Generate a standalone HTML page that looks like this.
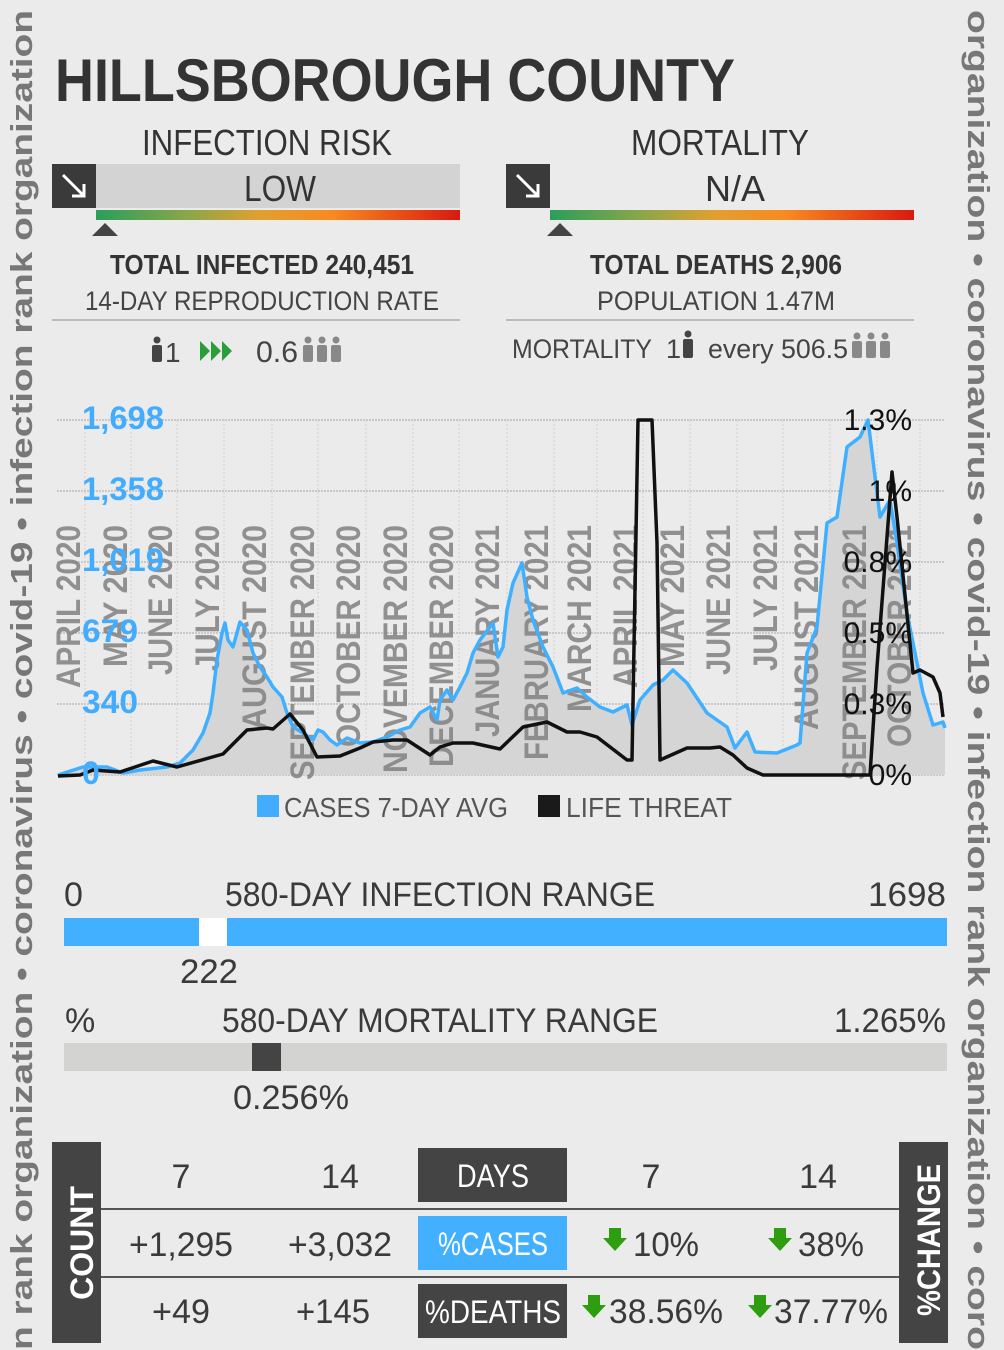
<!DOCTYPE html>
<html><head><meta charset="utf-8"><style>
html,body{margin:0;padding:0;background:#ebebeb;}
svg{display:block;font-family:"Liberation Sans",sans-serif;}
</style></head><body>
<svg width="1004" height="1350" viewBox="0 0 1004 1350" xmlns="http://www.w3.org/2000/svg">
<defs>
<linearGradient id="g" x1="0" x2="1"><stop offset="0" stop-color="#2a9e5a"/><stop offset="0.25" stop-color="#8aa64a"/><stop offset="0.45" stop-color="#e0a030"/><stop offset="0.65" stop-color="#f88a20"/><stop offset="1" stop-color="#d81a10"/></linearGradient>
</defs>
<rect width="1004" height="1350" fill="#ebebeb"/>
<text transform="translate(32,1350) rotate(-90)" font-size="31" font-weight="bold" fill="#777" textLength="1340" lengthAdjust="spacingAndGlyphs">n rank organization  •  coronavirus  •  covid-19  •  infection rank organization</text>
<text transform="translate(968,10) rotate(90)" font-size="31" font-weight="bold" fill="#777" textLength="1340" lengthAdjust="spacingAndGlyphs">organization  •  coronavirus  •  covid-19  •  infection rank organization  •  coro</text>

<text x="55" y="101" font-size="60" font-weight="bold" fill="#333" textLength="680" lengthAdjust="spacingAndGlyphs">HILLSBOROUGH COUNTY</text>

<text x="267" y="155" font-size="36" fill="#333" text-anchor="middle" textLength="250" lengthAdjust="spacingAndGlyphs">INFECTION RISK</text>
<rect x="52" y="164" width="44" height="44" fill="#3a3a3a"/>
<path d="M63 175 L84 196 M84 184 L84 196 L72 196" stroke="#fff" stroke-width="3" fill="none"/>
<rect x="96" y="164" width="364" height="44" fill="#d3d3d3"/>
<text x="280" y="201" font-size="36" fill="#333" text-anchor="middle" textLength="72" lengthAdjust="spacingAndGlyphs">LOW</text>
<rect x="96" y="210" width="364" height="10" fill="url(#g)"/>
<path d="M92 236 L105 223 L118 236Z" fill="#444"/>
<text x="262" y="274" font-size="28" font-weight="bold" fill="#333" text-anchor="middle" textLength="304" lengthAdjust="spacingAndGlyphs">TOTAL INFECTED 240,451</text>
<text x="262" y="310" font-size="27" fill="#444" text-anchor="middle" textLength="354" lengthAdjust="spacingAndGlyphs">14-DAY REPRODUCTION RATE</text>
<rect x="52" y="319" width="408" height="2" fill="#bbb"/>
<g fill="#444"><circle cx="157" cy="340" r="3.5"/><rect x="152" y="345" width="10" height="17" rx="2"/></g>
<text x="165" y="362" font-size="28" fill="#444">1</text>
<path d="M200 341 L210 351 L200 361Z M211 341 L221 351 L211 361Z M222 341 L232 351 L222 361Z" fill="#2a9e3a"/>
<text x="256" y="362" font-size="30" fill="#444" textLength="42" lengthAdjust="spacingAndGlyphs">0.6</text>
<g fill="#888"><circle cx="308" cy="340" r="3.5"/><rect x="303" y="345" width="10" height="17" rx="2"/><circle cx="322" cy="340" r="3.5"/><rect x="317" y="345" width="10" height="17" rx="2"/><circle cx="336" cy="340" r="3.5"/><rect x="331" y="345" width="10" height="17" rx="2"/></g>

<text x="720" y="155" font-size="36" fill="#333" text-anchor="middle" textLength="178" lengthAdjust="spacingAndGlyphs">MORTALITY</text>
<rect x="506" y="164" width="44" height="44" fill="#3a3a3a"/>
<path d="M517 175 L538 196 M538 184 L538 196 L526 196" stroke="#fff" stroke-width="3" fill="none"/>
<text x="735" y="201" font-size="36" fill="#333" text-anchor="middle" textLength="60" lengthAdjust="spacingAndGlyphs">N/A</text>
<rect x="550" y="210" width="364" height="10" fill="url(#g)"/>
<path d="M547 236 L560 223 L573 236Z" fill="#444"/>
<text x="716" y="274" font-size="28" font-weight="bold" fill="#333" text-anchor="middle" textLength="252" lengthAdjust="spacingAndGlyphs">TOTAL DEATHS 2,906</text>
<text x="716" y="310" font-size="27" fill="#444" text-anchor="middle" textLength="238" lengthAdjust="spacingAndGlyphs">POPULATION 1.47M</text>
<rect x="506" y="319" width="408" height="2" fill="#bbb"/>
<text x="512" y="358" font-size="27" fill="#444" textLength="140" lengthAdjust="spacingAndGlyphs">MORTALITY</text>
<text x="666" y="358" font-size="27" fill="#444">1</text>
<g fill="#444"><circle cx="688" cy="334" r="3.5"/><rect x="683" y="339" width="10" height="19" rx="2"/></g>
<text x="708" y="358" font-size="27" fill="#444" textLength="140" lengthAdjust="spacingAndGlyphs">every  506.5</text>
<g fill="#888"><circle cx="857" cy="336" r="3.5"/><rect x="852" y="341" width="10" height="17" rx="2"/><circle cx="871" cy="336" r="3.5"/><rect x="866" y="341" width="10" height="17" rx="2"/><circle cx="885" cy="336" r="3.5"/><rect x="880" y="341" width="10" height="17" rx="2"/></g>

<g stroke="#bcbcbc" stroke-width="1.5" stroke-dasharray="2,1">
<line x1="57" y1="420" x2="944" y2="420"/><line x1="57" y1="491" x2="944" y2="491"/><line x1="57" y1="562" x2="944" y2="562"/><line x1="57" y1="633" x2="944" y2="633"/><line x1="57" y1="704" x2="944" y2="704"/><line x1="57" y1="775" x2="944" y2="775"/>
</g>
<g stroke="#d0d0d0" stroke-width="1" stroke-dasharray="2,2">
<line x1="85" y1="420" x2="85" y2="775"/><line x1="131" y1="420" x2="131" y2="775"/><line x1="177" y1="420" x2="177" y2="775"/><line x1="224" y1="420" x2="224" y2="775"/><line x1="272" y1="420" x2="272" y2="775"/><line x1="318" y1="420" x2="318" y2="775"/><line x1="366" y1="420" x2="366" y2="775"/><line x1="413" y1="420" x2="413" y2="775"/><line x1="459" y1="420" x2="459" y2="775"/><line x1="507" y1="420" x2="507" y2="775"/><line x1="554" y1="420" x2="554" y2="775"/><line x1="597" y1="420" x2="597" y2="775"/><line x1="643" y1="420" x2="643" y2="775"/><line x1="690" y1="420" x2="690" y2="775"/><line x1="737" y1="420" x2="737" y2="775"/><line x1="783" y1="420" x2="783" y2="775"/><line x1="830" y1="420" x2="830" y2="775"/><line x1="877" y1="420" x2="877" y2="775"/><line x1="920" y1="420" x2="920" y2="775"/>
</g>
<path fill="#d5d5d5" d="M58,775 L83,767 L107,767 L123,773 L140,770 L167,767 L180,763 L193,750 L203,733 L210,713 L213,693 L217,660 L222,633 L225,623 L228,640 L233,647 L240,622 L247,630 L253,653 L260,667 L267,677 L273,687 L282,697 L287,713 L293,727 L303,733 L313,740 L318,730 L323,732 L330,740 L337,745 L347,738 L360,743 L373,742 L387,737 L400,730 L410,727 L420,713 L430,707 L437,720 L440,700 L447,690 L453,700 L460,687 L467,673 L473,653 L480,640 L493,623 L498,657 L503,647 L507,610 L513,583 L522,563 L527,597 L533,620 L543,647 L553,667 L563,693 L577,688 L587,697 L600,707 L613,712 L627,705 L632,725 L640,700 L653,685 L663,680 L673,670 L687,683 L707,713 L727,727 L735,748 L747,732 L755,752 L777,753 L797,745 L800,743 L807,653 L817,627 L827,523 L837,517 L847,447 L860,437 L868,420 L880,517 L890,500 L897,543 L907,613 L923,693 L933,725 L943,722 L945,728 L945,775Z"/>
<g font-size="34" font-weight="bold" fill="#808080" fill-opacity="0.85" text-anchor="end" lengthAdjust="spacingAndGlyphs">
<text transform="translate(80,525) rotate(-90)" textLength="163" lengthAdjust="spacingAndGlyphs">APRIL 2020</text>
<text transform="translate(127,525) rotate(-90)" textLength="142" lengthAdjust="spacingAndGlyphs">MAY 2020</text>
<text transform="translate(172,525) rotate(-90)" textLength="150" lengthAdjust="spacingAndGlyphs">JUNE 2020</text>
<text transform="translate(219,525) rotate(-90)" textLength="146" lengthAdjust="spacingAndGlyphs">JULY 2020</text>
<text transform="translate(266,525) rotate(-90)" textLength="205" lengthAdjust="spacingAndGlyphs">AUGUST 2020</text>
<text transform="translate(314,525) rotate(-90)" textLength="255" lengthAdjust="spacingAndGlyphs">SEPTEMBER 2020</text>
<text transform="translate(360,525) rotate(-90)" textLength="222" lengthAdjust="spacingAndGlyphs">OCTOBER 2020</text>
<text transform="translate(407,525) rotate(-90)" textLength="248" lengthAdjust="spacingAndGlyphs">NOVEMBER 2020</text>
<text transform="translate(453,525) rotate(-90)" textLength="242" lengthAdjust="spacingAndGlyphs">DECEMBER 2020</text>
<text transform="translate(499,525) rotate(-90)" textLength="212" lengthAdjust="spacingAndGlyphs">JANUARY 2021</text>
<text transform="translate(548,525) rotate(-90)" textLength="235" lengthAdjust="spacingAndGlyphs">FEBRUARY 2021</text>
<text transform="translate(591,525) rotate(-90)" textLength="187" lengthAdjust="spacingAndGlyphs">MARCH 2021</text>
<text transform="translate(637,525) rotate(-90)" textLength="163" lengthAdjust="spacingAndGlyphs">APRIL 2021</text>
<text transform="translate(684,525) rotate(-90)" textLength="142" lengthAdjust="spacingAndGlyphs">MAY 2021</text>
<text transform="translate(730,525) rotate(-90)" textLength="150" lengthAdjust="spacingAndGlyphs">JUNE 2021</text>
<text transform="translate(777,525) rotate(-90)" textLength="146" lengthAdjust="spacingAndGlyphs">JULY 2021</text>
<text transform="translate(818,525) rotate(-90)" textLength="205" lengthAdjust="spacingAndGlyphs">AUGUST 2021</text>
<text transform="translate(866,525) rotate(-90)" textLength="255" lengthAdjust="spacingAndGlyphs">SEPTEMBER 2021</text>
<text transform="translate(911,525) rotate(-90)" textLength="222" lengthAdjust="spacingAndGlyphs">OCTOBER 2021</text>
</g>
<path fill="none" stroke="#3fb0ff" stroke-width="3.5" stroke-linejoin="round" d="M58,775 L83,767 L107,767 L123,773 L140,770 L167,767 L180,763 L193,750 L203,733 L210,713 L213,693 L217,660 L222,633 L225,623 L228,640 L233,647 L240,622 L247,630 L253,653 L260,667 L267,677 L273,687 L282,697 L287,713 L293,727 L303,733 L313,740 L318,730 L323,732 L330,740 L337,745 L347,738 L360,743 L373,742 L387,737 L400,730 L410,727 L420,713 L430,707 L437,720 L440,700 L447,690 L453,700 L460,687 L467,673 L473,653 L480,640 L493,623 L498,657 L503,647 L507,610 L513,583 L522,563 L527,597 L533,620 L543,647 L553,667 L563,693 L577,688 L587,697 L600,707 L613,712 L627,705 L632,725 L640,700 L653,685 L663,680 L673,670 L687,683 L707,713 L727,727 L735,748 L747,732 L755,752 L777,753 L797,745 L800,743 L807,653 L817,627 L827,523 L837,517 L847,447 L860,437 L868,420 L880,517 L890,500 L897,543 L907,613 L923,693 L933,725 L943,722 L945,728"/>
<path fill="none" stroke="#111" stroke-width="3.5" stroke-linejoin="round" d="M58,776 L80,775 L93,770 L120,772 L153,761 L177,767 L223,754 L247,730 L267,728 L273,729 L290,714 L303,730 L317,757 L340,756 L360,748 L373,742 L393,740 L407,740 L430,755 L440,747 L453,743 L473,743 L500,749 L523,727 L547,722 L567,732 L580,732 L597,737 L627,760 L632,760 L638,420 L652,420 L657,543 L660,760 L687,748 L710,748 L720,747 L733,755 L747,768 L763,775 L870,775 L877,667 L892,472 L897,517 L913,673 L920,670 L933,677 L940,693 L943,717"/>
<g font-size="32" font-weight="bold" fill="#42acff">
<text x="82" y="429" textLength="82" lengthAdjust="spacingAndGlyphs">1,698</text>
<text x="82" y="500" textLength="82" lengthAdjust="spacingAndGlyphs">1,358</text>
<text x="82" y="571" textLength="82" lengthAdjust="spacingAndGlyphs">1,019</text>
<text x="82" y="642" textLength="56" lengthAdjust="spacingAndGlyphs">679</text>
<text x="82" y="713" textLength="56" lengthAdjust="spacingAndGlyphs">340</text>
<text x="82" y="784">0</text>
</g>
<g font-size="30" fill="#111" text-anchor="end">
<text x="912" y="430">1.3%</text><text x="912" y="501">1%</text><text x="912" y="572">0.8%</text><text x="912" y="643">0.5%</text><text x="912" y="714">0.3%</text><text x="912" y="785">0%</text>
</g>
<rect x="257" y="795" width="22" height="22" fill="#42acff"/>
<text x="284" y="817" font-size="28" fill="#555" textLength="224" lengthAdjust="spacingAndGlyphs">CASES 7-DAY AVG</text>
<rect x="538" y="795" width="22" height="22" fill="#1a1a1a"/>
<text x="566" y="817" font-size="28" fill="#555" textLength="166" lengthAdjust="spacingAndGlyphs">LIFE THREAT</text>

<g font-size="34" fill="#3a3a3a">
<text x="64" y="906">0</text>
<text x="225" y="906" textLength="430" lengthAdjust="spacingAndGlyphs">580-DAY INFECTION RANGE</text>
<text x="946" y="906" text-anchor="end" textLength="78" lengthAdjust="spacingAndGlyphs">1698</text>
<text x="180" y="983" textLength="58" lengthAdjust="spacingAndGlyphs">222</text>
<text x="65" y="1032">%</text>
<text x="222" y="1032" textLength="436" lengthAdjust="spacingAndGlyphs">580-DAY MORTALITY RANGE</text>
<text x="946" y="1032" text-anchor="end" textLength="112" lengthAdjust="spacingAndGlyphs">1.265%</text>
<text x="233" y="1109" textLength="116" lengthAdjust="spacingAndGlyphs">0.256%</text>
</g>
<rect x="64" y="918" width="883" height="28" fill="#42afff"/>
<rect x="199" y="918" width="28" height="28" fill="#fff"/>
<rect x="64" y="1043" width="883" height="28" fill="#d3d3d1"/>
<rect x="252" y="1043" width="29" height="28" fill="#444"/>

<rect x="52" y="1142" width="49" height="201" fill="#444"/>
<text transform="translate(93,1243) rotate(-90)" font-size="32" font-weight="bold" fill="#fff" text-anchor="middle">COUNT</text>
<rect x="899" y="1142" width="49" height="201" fill="#444"/>
<text transform="translate(940,1240) rotate(-90)" font-size="32" font-weight="bold" fill="#fff" text-anchor="middle" textLength="152" lengthAdjust="spacingAndGlyphs">%CHANGE</text>
<rect x="101" y="1208" width="798" height="2" fill="#555"/>
<rect x="101" y="1276" width="798" height="2" fill="#555"/>
<rect x="418" y="1148" width="149" height="54" fill="#444"/>
<rect x="418" y="1216" width="149" height="54" fill="#42afff"/>
<rect x="418" y="1284" width="149" height="54" fill="#444"/>
<g font-size="34" fill="#3a3a3a" text-anchor="middle">
<text x="181" y="1188">7</text><text x="340" y="1188">14</text><text x="651" y="1188">7</text><text x="818" y="1188">14</text>
<text x="181" y="1256" textLength="104" lengthAdjust="spacingAndGlyphs">+1,295</text>
<text x="340" y="1256" textLength="104" lengthAdjust="spacingAndGlyphs">+3,032</text>
<text x="666" y="1256" textLength="66" lengthAdjust="spacingAndGlyphs">10%</text>
<text x="831" y="1256" textLength="66" lengthAdjust="spacingAndGlyphs">38%</text>
<text x="181" y="1323" textLength="58" lengthAdjust="spacingAndGlyphs">+49</text>
<text x="333" y="1323" textLength="74" lengthAdjust="spacingAndGlyphs">+145</text>
<text x="666" y="1323" textLength="114" lengthAdjust="spacingAndGlyphs">38.56%</text>
<text x="831" y="1323" textLength="114" lengthAdjust="spacingAndGlyphs">37.77%</text>
</g>
<g font-size="32" fill="#fff" text-anchor="middle">
<text x="493" y="1187" textLength="72" lengthAdjust="spacingAndGlyphs">DAYS</text>
<text x="493" y="1255" textLength="110" lengthAdjust="spacingAndGlyphs">%CASES</text>
<text x="493" y="1323" textLength="136" lengthAdjust="spacingAndGlyphs">%DEATHS</text>
</g>
<g fill="#2e9e10">
<path d="M609 1228 h12 v10 h6 l-12 13 l-12 -13 h6z"/>
<path d="M774 1228 h12 v10 h6 l-12 13 l-12 -13 h6z"/>
<path d="M588 1295 h12 v10 h6 l-12 13 l-12 -13 h6z"/>
<path d="M754 1295 h12 v10 h6 l-12 13 l-12 -13 h6z"/>
</g>
</svg>
</body></html>
